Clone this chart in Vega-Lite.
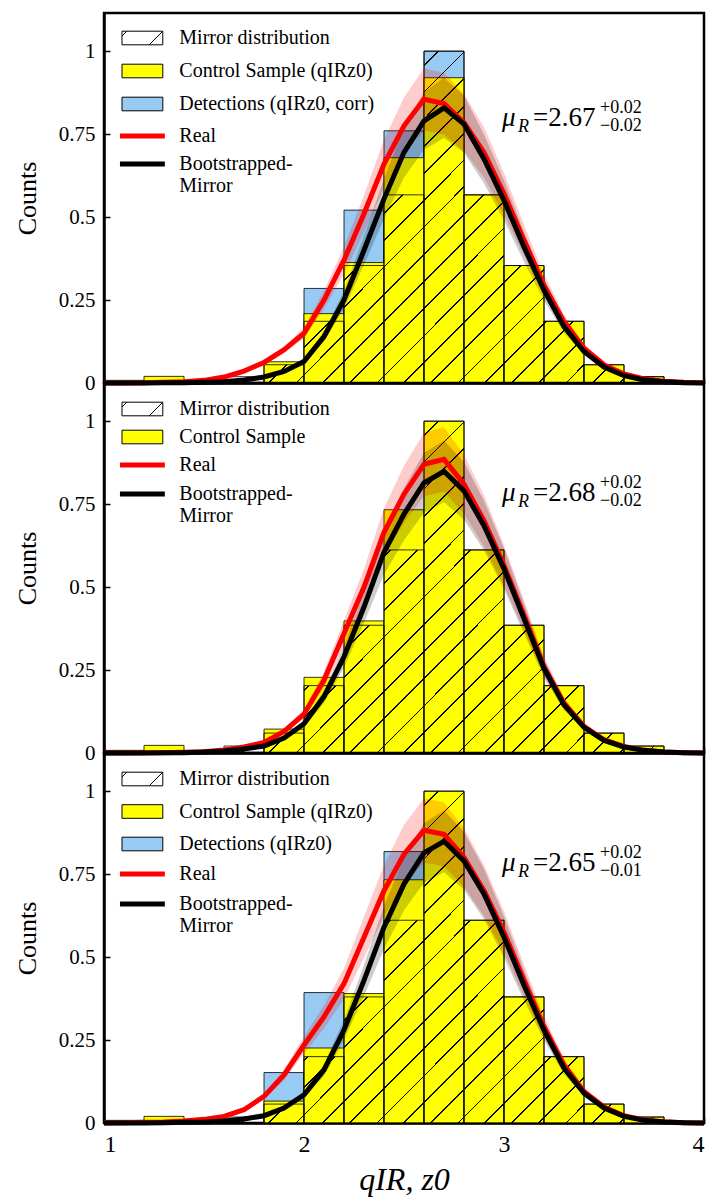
{
"$schema": "https://vega.github.io/schema/vega-lite/v6.json",
"background": "white",
"padding": {"left": 13, "top": 11, "right": 12, "bottom": 4},
"bounds": "flush",
"params": [
 {"name": "hatch", "value": {"gradient": "linear", "x1": 0, "y1": 0, "x2": 1.179, "y2": 0.697, "stops": [
  {"offset":0.010,"color":"transparent"},{"offset":0.010,"color":"black"},{"offset":0.012,"color":"black"},{"offset":0.012,"color":"transparent"},
  {"offset":0.040,"color":"transparent"},{"offset":0.040,"color":"black"},{"offset":0.042,"color":"black"},{"offset":0.042,"color":"transparent"},
  {"offset":0.071,"color":"transparent"},{"offset":0.071,"color":"black"},{"offset":0.073,"color":"black"},{"offset":0.073,"color":"transparent"},
  {"offset":0.101,"color":"transparent"},{"offset":0.101,"color":"black"},{"offset":0.103,"color":"black"},{"offset":0.103,"color":"transparent"},
  {"offset":0.131,"color":"transparent"},{"offset":0.131,"color":"black"},{"offset":0.133,"color":"black"},{"offset":0.133,"color":"transparent"},
  {"offset":0.162,"color":"transparent"},{"offset":0.162,"color":"black"},{"offset":0.164,"color":"black"},{"offset":0.164,"color":"transparent"},
  {"offset":0.192,"color":"transparent"},{"offset":0.192,"color":"black"},{"offset":0.194,"color":"black"},{"offset":0.194,"color":"transparent"},
  {"offset":0.222,"color":"transparent"},{"offset":0.222,"color":"black"},{"offset":0.224,"color":"black"},{"offset":0.224,"color":"transparent"},
  {"offset":0.252,"color":"transparent"},{"offset":0.252,"color":"black"},{"offset":0.254,"color":"black"},{"offset":0.254,"color":"transparent"},
  {"offset":0.283,"color":"transparent"},{"offset":0.283,"color":"black"},{"offset":0.285,"color":"black"},{"offset":0.285,"color":"transparent"},
  {"offset":0.313,"color":"transparent"},{"offset":0.313,"color":"black"},{"offset":0.315,"color":"black"},{"offset":0.315,"color":"transparent"},
  {"offset":0.343,"color":"transparent"},{"offset":0.343,"color":"black"},{"offset":0.345,"color":"black"},{"offset":0.345,"color":"transparent"},
  {"offset":0.374,"color":"transparent"},{"offset":0.374,"color":"black"},{"offset":0.376,"color":"black"},{"offset":0.376,"color":"transparent"},
  {"offset":0.404,"color":"transparent"},{"offset":0.404,"color":"black"},{"offset":0.406,"color":"black"},{"offset":0.406,"color":"transparent"},
  {"offset":0.434,"color":"transparent"},{"offset":0.434,"color":"black"},{"offset":0.436,"color":"black"},{"offset":0.436,"color":"transparent"},
  {"offset":0.465,"color":"transparent"},{"offset":0.465,"color":"black"},{"offset":0.467,"color":"black"},{"offset":0.467,"color":"transparent"},
  {"offset":0.495,"color":"transparent"},{"offset":0.495,"color":"black"},{"offset":0.497,"color":"black"},{"offset":0.497,"color":"transparent"},
  {"offset":0.525,"color":"transparent"},{"offset":0.525,"color":"black"},{"offset":0.527,"color":"black"},{"offset":0.527,"color":"transparent"},
  {"offset":0.555,"color":"transparent"},{"offset":0.555,"color":"black"},{"offset":0.557,"color":"black"},{"offset":0.557,"color":"transparent"},
  {"offset":0.586,"color":"transparent"},{"offset":0.586,"color":"black"},{"offset":0.588,"color":"black"},{"offset":0.588,"color":"transparent"},
  {"offset":0.616,"color":"transparent"},{"offset":0.616,"color":"black"},{"offset":0.618,"color":"black"},{"offset":0.618,"color":"transparent"},
  {"offset":0.646,"color":"transparent"},{"offset":0.646,"color":"black"},{"offset":0.648,"color":"black"},{"offset":0.648,"color":"transparent"},
  {"offset":0.677,"color":"transparent"},{"offset":0.677,"color":"black"},{"offset":0.679,"color":"black"},{"offset":0.679,"color":"transparent"},
  {"offset":0.707,"color":"transparent"},{"offset":0.707,"color":"black"},{"offset":0.709,"color":"black"},{"offset":0.709,"color":"transparent"},
  {"offset":0.737,"color":"transparent"},{"offset":0.737,"color":"black"},{"offset":0.739,"color":"black"},{"offset":0.739,"color":"transparent"},
  {"offset":0.768,"color":"transparent"},{"offset":0.768,"color":"black"},{"offset":0.770,"color":"black"},{"offset":0.770,"color":"transparent"},
  {"offset":0.798,"color":"transparent"},{"offset":0.798,"color":"black"},{"offset":0.800,"color":"black"},{"offset":0.800,"color":"transparent"},
  {"offset":0.828,"color":"transparent"},{"offset":0.828,"color":"black"},{"offset":0.830,"color":"black"},{"offset":0.830,"color":"transparent"},
  {"offset":0.858,"color":"transparent"},{"offset":0.858,"color":"black"},{"offset":0.860,"color":"black"},{"offset":0.860,"color":"transparent"},
  {"offset":0.889,"color":"transparent"},{"offset":0.889,"color":"black"},{"offset":0.891,"color":"black"},{"offset":0.891,"color":"transparent"},
  {"offset":0.919,"color":"transparent"},{"offset":0.919,"color":"black"},{"offset":0.921,"color":"black"},{"offset":0.921,"color":"transparent"},
  {"offset":0.949,"color":"transparent"},{"offset":0.949,"color":"black"},{"offset":0.951,"color":"black"},{"offset":0.951,"color":"transparent"},
  {"offset":0.980,"color":"transparent"},{"offset":0.980,"color":"black"},{"offset":0.982,"color":"black"},{"offset":0.982,"color":"transparent"}
 ]}},
 {"name": "hatchLeg", "value": {"gradient": "linear", "x1": 0, "y1": 0, "x2": 1.2, "y2": 0.4, "stops": [
  {"offset":0,"color":"white"},{"offset":0.077,"color":"white"},{"offset":0.077,"color":"black"},{"offset":0.105,"color":"black"},{"offset":0.105,"color":"white"},
  {"offset":0.737,"color":"white"},{"offset":0.737,"color":"black"},{"offset":0.765,"color":"black"},{"offset":0.765,"color":"white"},{"offset":1,"color":"white"}
 ]}}
],
"datasets": {
 "bars1": [
  {"x0":1.0,"x1":1.2,"ctrl":0.008,"det":null,"mir":0},
  {"x0":1.2,"x1":1.4,"ctrl":0.02,"det":null,"mir":0},
  {"x0":1.4,"x1":1.6,"ctrl":0,"det":null,"mir":0},
  {"x0":1.6,"x1":1.8,"ctrl":0,"det":null,"mir":0.019},
  {"x0":1.8,"x1":2.0,"ctrl":0.064,"det":null,"mir":0.055},
  {"x0":2.0,"x1":2.2,"ctrl":0.209,"det":0.285,"mir":0.186},
  {"x0":2.2,"x1":2.4,"ctrl":0.363,"det":0.521,"mir":0.354},
  {"x0":2.4,"x1":2.6,"ctrl":0.679,"det":0.76,"mir":0.567},
  {"x0":2.6,"x1":2.8,"ctrl":0.92,"det":1.0,"mir":1.0},
  {"x0":2.8,"x1":3.0,"ctrl":0.567,"det":null,"mir":0.567},
  {"x0":3.0,"x1":3.2,"ctrl":0.354,"det":null,"mir":0.354},
  {"x0":3.2,"x1":3.4,"ctrl":0.186,"det":null,"mir":0.186},
  {"x0":3.4,"x1":3.6,"ctrl":0.055,"det":null,"mir":0.055},
  {"x0":3.6,"x1":3.8,"ctrl":0.019,"det":null,"mir":0.019},
  {"x0":3.8,"x1":4.0,"ctrl":0,"det":null,"mir":0}
 ],
 "bars2": [
  {"x0":1.0,"x1":1.2,"ctrl":0.008,"mir":0},
  {"x0":1.2,"x1":1.4,"ctrl":0.023,"mir":0},
  {"x0":1.4,"x1":1.6,"ctrl":0,"mir":0},
  {"x0":1.6,"x1":1.8,"ctrl":0,"mir":0.021},
  {"x0":1.8,"x1":2.0,"ctrl":0.072,"mir":0.06},
  {"x0":2.0,"x1":2.2,"ctrl":0.228,"mir":0.203},
  {"x0":2.2,"x1":2.4,"ctrl":0.398,"mir":0.385},
  {"x0":2.4,"x1":2.6,"ctrl":0.733,"mir":0.612},
  {"x0":2.6,"x1":2.8,"ctrl":1.0,"mir":1.0},
  {"x0":2.8,"x1":3.0,"ctrl":0.612,"mir":0.612},
  {"x0":3.0,"x1":3.2,"ctrl":0.385,"mir":0.385},
  {"x0":3.2,"x1":3.4,"ctrl":0.203,"mir":0.203},
  {"x0":3.4,"x1":3.6,"ctrl":0.06,"mir":0.06},
  {"x0":3.6,"x1":3.8,"ctrl":0.021,"mir":0.021},
  {"x0":3.8,"x1":4.0,"ctrl":0,"mir":0}
 ],
 "bars3": [
  {"x0":1.0,"x1":1.2,"ctrl":0.008,"det":null,"mir":0},
  {"x0":1.2,"x1":1.4,"ctrl":0.02,"det":null,"mir":0},
  {"x0":1.4,"x1":1.6,"ctrl":0,"det":null,"mir":0},
  {"x0":1.6,"x1":1.8,"ctrl":0,"det":null,"mir":0.018},
  {"x0":1.8,"x1":2.0,"ctrl":0.066,"det":0.152,"mir":0.057},
  {"x0":2.0,"x1":2.2,"ctrl":0.226,"det":0.393,"mir":0.2},
  {"x0":2.2,"x1":2.4,"ctrl":0.39,"det":null,"mir":0.38},
  {"x0":2.4,"x1":2.6,"ctrl":0.733,"det":0.818,"mir":0.611},
  {"x0":2.6,"x1":2.8,"ctrl":1.0,"det":null,"mir":1.0},
  {"x0":2.8,"x1":3.0,"ctrl":0.611,"det":null,"mir":0.611},
  {"x0":3.0,"x1":3.2,"ctrl":0.38,"det":null,"mir":0.38},
  {"x0":3.2,"x1":3.4,"ctrl":0.2,"det":null,"mir":0.2},
  {"x0":3.4,"x1":3.6,"ctrl":0.057,"det":null,"mir":0.057},
  {"x0":3.6,"x1":3.8,"ctrl":0.018,"det":null,"mir":0.018},
  {"x0":3.8,"x1":4.0,"ctrl":0,"det":null,"mir":0}
 ],
 "curves1": [
  {"x":1.0,"r":0,"rl":0,"rh":0,"b":0,"bl":0,"bh":0},
  {"x":1.1,"r":0,"rl":0,"rh":0,"b":0,"bl":0,"bh":0},
  {"x":1.2,"r":0.001,"rl":0.001,"rh":0.001,"b":0,"bl":0,"bh":0},
  {"x":1.3,"r":0.002,"rl":0.002,"rh":0.002,"b":0.001,"bl":0.001,"bh":0.001},
  {"x":1.4,"r":0.004,"rl":0.004,"rh":0.004,"b":0.001,"bl":0.001,"bh":0.001},
  {"x":1.5,"r":0.008,"rl":0.007,"rh":0.009,"b":0.002,"bl":0.002,"bh":0.002},
  {"x":1.6,"r":0.018,"rl":0.016,"rh":0.02,"b":0.004,"bl":0.004,"bh":0.004},
  {"x":1.7,"r":0.036,"rl":0.032,"rh":0.04,"b":0.009,"bl":0.008,"bh":0.01},
  {"x":1.8,"r":0.062,"rl":0.055,"rh":0.069,"b":0.018,"bl":0.016,"bh":0.02},
  {"x":1.9,"r":0.1,"rl":0.089,"rh":0.111,"b":0.035,"bl":0.031,"bh":0.039},
  {"x":2.0,"r":0.15,"rl":0.134,"rh":0.167,"b":0.065,"bl":0.058,"bh":0.072},
  {"x":2.1,"r":0.25,"rl":0.223,"rh":0.278,"b":0.14,"bl":0.125,"bh":0.155},
  {"x":2.2,"r":0.37,"rl":0.329,"rh":0.411,"b":0.25,"bl":0.223,"bh":0.278},
  {"x":2.3,"r":0.51,"rl":0.454,"rh":0.566,"b":0.4,"bl":0.356,"bh":0.444},
  {"x":2.4,"r":0.66,"rl":0.587,"rh":0.733,"b":0.555,"bl":0.494,"bh":0.616},
  {"x":2.5,"r":0.775,"rl":0.69,"rh":0.86,"b":0.695,"bl":0.619,"bh":0.771},
  {"x":2.6,"r":0.855,"rl":0.761,"rh":0.949,"b":0.79,"bl":0.703,"bh":0.877},
  {"x":2.7,"r":0.842,"rl":0.749,"rh":0.935,"b":0.829,"bl":0.738,"bh":0.92},
  {"x":2.8,"r":0.785,"rl":0.699,"rh":0.871,"b":0.78,"bl":0.694,"bh":0.866},
  {"x":2.9,"r":0.695,"rl":0.619,"rh":0.771,"b":0.675,"bl":0.601,"bh":0.749},
  {"x":3.0,"r":0.57,"rl":0.507,"rh":0.633,"b":0.55,"bl":0.49,"bh":0.611},
  {"x":3.1,"r":0.43,"rl":0.383,"rh":0.477,"b":0.41,"bl":0.365,"bh":0.455},
  {"x":3.2,"r":0.295,"rl":0.263,"rh":0.327,"b":0.28,"bl":0.249,"bh":0.311},
  {"x":3.3,"r":0.185,"rl":0.165,"rh":0.205,"b":0.17,"bl":0.151,"bh":0.189},
  {"x":3.4,"r":0.105,"rl":0.093,"rh":0.117,"b":0.095,"bl":0.085,"bh":0.105},
  {"x":3.5,"r":0.055,"rl":0.049,"rh":0.061,"b":0.048,"bl":0.043,"bh":0.053},
  {"x":3.6,"r":0.027,"rl":0.024,"rh":0.03,"b":0.022,"bl":0.02,"bh":0.024},
  {"x":3.7,"r":0.012,"rl":0.011,"rh":0.013,"b":0.009,"bl":0.008,"bh":0.01},
  {"x":3.8,"r":0.005,"rl":0.004,"rh":0.006,"b":0.004,"bl":0.004,"bh":0.004},
  {"x":3.9,"r":0.002,"rl":0.002,"rh":0.002,"b":0.001,"bl":0.001,"bh":0.001},
  {"x":4.0,"r":0.001,"rl":0.001,"rh":0.001,"b":0,"bl":0,"bh":0}
 ],
 "curves2": [
  {"x":1.0,"r":0,"rl":0,"rh":0,"b":0,"bl":0,"bh":0},
  {"x":1.1,"r":0,"rl":0,"rh":0,"b":0,"bl":0,"bh":0},
  {"x":1.2,"r":0.001,"rl":0.001,"rh":0.001,"b":0,"bl":0,"bh":0},
  {"x":1.3,"r":0.001,"rl":0.001,"rh":0.001,"b":0.001,"bl":0.001,"bh":0.001},
  {"x":1.4,"r":0.002,"rl":0.002,"rh":0.002,"b":0.001,"bl":0.001,"bh":0.001},
  {"x":1.5,"r":0.004,"rl":0.004,"rh":0.004,"b":0.003,"bl":0.003,"bh":0.003},
  {"x":1.6,"r":0.009,"rl":0.008,"rh":0.01,"b":0.006,"bl":0.005,"bh":0.007},
  {"x":1.7,"r":0.018,"rl":0.016,"rh":0.02,"b":0.012,"bl":0.011,"bh":0.013},
  {"x":1.8,"r":0.032,"rl":0.028,"rh":0.036,"b":0.021,"bl":0.019,"bh":0.023},
  {"x":1.9,"r":0.065,"rl":0.058,"rh":0.072,"b":0.045,"bl":0.04,"bh":0.05},
  {"x":2.0,"r":0.117,"rl":0.104,"rh":0.13,"b":0.088,"bl":0.078,"bh":0.098},
  {"x":2.1,"r":0.22,"rl":0.196,"rh":0.244,"b":0.17,"bl":0.151,"bh":0.189},
  {"x":2.2,"r":0.36,"rl":0.32,"rh":0.4,"b":0.29,"bl":0.258,"bh":0.322},
  {"x":2.3,"r":0.5,"rl":0.445,"rh":0.555,"b":0.44,"bl":0.392,"bh":0.488},
  {"x":2.4,"r":0.665,"rl":0.592,"rh":0.738,"b":0.605,"bl":0.538,"bh":0.672},
  {"x":2.5,"r":0.78,"rl":0.694,"rh":0.866,"b":0.72,"bl":0.641,"bh":0.799},
  {"x":2.6,"r":0.87,"rl":0.774,"rh":0.966,"b":0.814,"bl":0.724,"bh":0.904},
  {"x":2.7,"r":0.885,"rl":0.788,"rh":0.982,"b":0.849,"bl":0.756,"bh":0.942},
  {"x":2.8,"r":0.81,"rl":0.721,"rh":0.899,"b":0.79,"bl":0.703,"bh":0.877},
  {"x":2.9,"r":0.7,"rl":0.623,"rh":0.777,"b":0.685,"bl":0.61,"bh":0.76},
  {"x":3.0,"r":0.565,"rl":0.503,"rh":0.627,"b":0.555,"bl":0.494,"bh":0.616},
  {"x":3.1,"r":0.415,"rl":0.369,"rh":0.461,"b":0.405,"bl":0.36,"bh":0.45},
  {"x":3.2,"r":0.26,"rl":0.231,"rh":0.289,"b":0.255,"bl":0.227,"bh":0.283},
  {"x":3.3,"r":0.15,"rl":0.134,"rh":0.167,"b":0.145,"bl":0.129,"bh":0.161},
  {"x":3.4,"r":0.08,"rl":0.071,"rh":0.089,"b":0.077,"bl":0.069,"bh":0.085},
  {"x":3.5,"r":0.04,"rl":0.036,"rh":0.044,"b":0.038,"bl":0.034,"bh":0.042},
  {"x":3.6,"r":0.02,"rl":0.018,"rh":0.022,"b":0.018,"bl":0.016,"bh":0.02},
  {"x":3.7,"r":0.008,"rl":0.007,"rh":0.009,"b":0.008,"bl":0.007,"bh":0.009},
  {"x":3.8,"r":0.003,"rl":0.003,"rh":0.003,"b":0.003,"bl":0.003,"bh":0.003},
  {"x":3.9,"r":0.001,"rl":0.001,"rh":0.001,"b":0.001,"bl":0.001,"bh":0.001},
  {"x":4.0,"r":0,"rl":0,"rh":0,"b":0,"bl":0,"bh":0}
 ],
 "curves3": [
  {"x":1.0,"r":0,"rl":0,"rh":0,"b":0,"bl":0,"bh":0},
  {"x":1.1,"r":0.001,"rl":0.001,"rh":0.001,"b":0,"bl":0,"bh":0},
  {"x":1.2,"r":0.002,"rl":0.002,"rh":0.002,"b":0,"bl":0,"bh":0},
  {"x":1.3,"r":0.003,"rl":0.003,"rh":0.003,"b":0.001,"bl":0.001,"bh":0.001},
  {"x":1.4,"r":0.006,"rl":0.005,"rh":0.007,"b":0.002,"bl":0.002,"bh":0.002},
  {"x":1.5,"r":0.011,"rl":0.01,"rh":0.012,"b":0.003,"bl":0.003,"bh":0.003},
  {"x":1.6,"r":0.02,"rl":0.018,"rh":0.022,"b":0.006,"bl":0.005,"bh":0.007},
  {"x":1.7,"r":0.04,"rl":0.036,"rh":0.044,"b":0.012,"bl":0.011,"bh":0.013},
  {"x":1.8,"r":0.08,"rl":0.071,"rh":0.089,"b":0.022,"bl":0.02,"bh":0.024},
  {"x":1.9,"r":0.145,"rl":0.129,"rh":0.161,"b":0.045,"bl":0.04,"bh":0.05},
  {"x":2.0,"r":0.235,"rl":0.209,"rh":0.261,"b":0.085,"bl":0.076,"bh":0.094},
  {"x":2.1,"r":0.32,"rl":0.285,"rh":0.355,"b":0.16,"bl":0.142,"bh":0.178},
  {"x":2.2,"r":0.42,"rl":0.374,"rh":0.466,"b":0.28,"bl":0.249,"bh":0.311},
  {"x":2.3,"r":0.56,"rl":0.498,"rh":0.622,"b":0.43,"bl":0.383,"bh":0.477},
  {"x":2.4,"r":0.7,"rl":0.623,"rh":0.777,"b":0.59,"bl":0.525,"bh":0.655},
  {"x":2.5,"r":0.81,"rl":0.721,"rh":0.899,"b":0.72,"bl":0.641,"bh":0.799},
  {"x":2.6,"r":0.882,"rl":0.785,"rh":0.979,"b":0.814,"bl":0.724,"bh":0.904},
  {"x":2.7,"r":0.87,"rl":0.774,"rh":0.966,"b":0.849,"bl":0.756,"bh":0.942},
  {"x":2.8,"r":0.8,"rl":0.712,"rh":0.888,"b":0.79,"bl":0.703,"bh":0.877},
  {"x":2.9,"r":0.7,"rl":0.623,"rh":0.777,"b":0.69,"bl":0.614,"bh":0.766},
  {"x":3.0,"r":0.575,"rl":0.512,"rh":0.638,"b":0.56,"bl":0.498,"bh":0.622},
  {"x":3.1,"r":0.43,"rl":0.383,"rh":0.477,"b":0.415,"bl":0.369,"bh":0.461},
  {"x":3.2,"r":0.29,"rl":0.258,"rh":0.322,"b":0.28,"bl":0.249,"bh":0.311},
  {"x":3.3,"r":0.175,"rl":0.156,"rh":0.194,"b":0.165,"bl":0.147,"bh":0.183},
  {"x":3.4,"r":0.095,"rl":0.085,"rh":0.105,"b":0.09,"bl":0.08,"bh":0.1},
  {"x":3.5,"r":0.048,"rl":0.043,"rh":0.053,"b":0.045,"bl":0.04,"bh":0.05},
  {"x":3.6,"r":0.022,"rl":0.02,"rh":0.024,"b":0.02,"bl":0.018,"bh":0.022},
  {"x":3.7,"r":0.009,"rl":0.008,"rh":0.01,"b":0.008,"bl":0.007,"bh":0.009},
  {"x":3.8,"r":0.004,"rl":0.004,"rh":0.004,"b":0.003,"bl":0.003,"bh":0.003},
  {"x":3.9,"r":0.001,"rl":0.001,"rh":0.001,"b":0.001,"bl":0.001,"bh":0.001},
  {"x":4.0,"r":0,"rl":0,"rh":0,"b":0,"bl":0,"bh":0}
 ],
 "ann1": [{"val":"=2.67","up":"+0.02","dn":"−0.02"}],
 "ann2": [{"val":"=2.68","up":"+0.02","dn":"−0.02"}],
 "ann3": [{"val":"=2.65","up":"+0.02","dn":"−0.01"}]
},
"spacing": 0,
"resolve": {"scale": {"fill": "independent", "stroke": "independent", "x": "independent", "y": "independent"}, "legend": {"fill": "independent", "stroke": "independent"}},
"vconcat": [
 {"width": 600, "height": 370,
  "layer": [
   {"data": {"name": "bars1"}, "mark": {"type": "rect", "stroke": "black", "strokeWidth": 0.8},
    "encoding": {
     "x": {"field": "x0", "type": "quantitative", "title": null, "scale": {"domain": [1, 4], "nice": false}, "axis": {"values": [1,2,3,4], "labels": false, "labelPadding": 0}},
     "x2": {"field": "x1"},
     "y": {"field": "det", "type": "quantitative", "title": "Counts", "scale": {"domain": [0, 1.115], "nice": false}, "axis": {"values": [0,0.25,0.5,0.75,1], "format": "~g"}},
     "y2": {"datum": 0},
     "fill": {"datum": "Detections (qIRz0, corr)",
      "scale": {"domain": ["Mirror distribution","Control Sample (qIRz0)","Detections (qIRz0, corr)"], "range": [{"expr": "hatchLeg"},"#ffff00","#97cbf3"]},
      "legend": {"title": null, "orient": "none", "legendX": 18, "legendY": 15, "rowPadding": 13, "symbolType": "M-3,-1H3V1H-3Z", "symbolSize": 185, "symbolStrokeColor": "black", "symbolStrokeWidth": 1, "symbolOffset": 10.4, "labelOffset": 26.9}}
    }},
   {"data": {"name": "bars1"}, "mark": {"type": "rect", "stroke": "black", "strokeWidth": 0.8},
    "encoding": {"x": {"field": "x0", "type": "quantitative", "title": null, "scale": {"domain": [1, 4], "nice": false}}, "x2": {"field": "x1"},
     "y": {"field": "ctrl", "type": "quantitative", "title": "Counts", "scale": {"domain": [0, 1.115], "nice": false}}, "y2": {"datum": 0},
     "fill": {"datum": "Control Sample (qIRz0)"}}},
   {"data": {"name": "bars1"}, "mark": {"type": "area", "interpolate": "step-after", "fill": {"expr": "hatch"}},
    "encoding": {"x": {"field": "x0", "type": "quantitative", "title": null, "scale": {"domain": [1, 4], "nice": false}},
     "y": {"field": "mir", "type": "quantitative", "title": "Counts", "scale": {"domain": [0, 1.115], "nice": false}}}},
   {"data": {"name": "bars1"}, "mark": {"type": "rect", "fillOpacity": 0, "stroke": "black", "strokeWidth": 0.8},
    "encoding": {"x": {"field": "x0", "type": "quantitative", "title": null, "scale": {"domain": [1, 4], "nice": false}}, "x2": {"field": "x1"},
     "y": {"field": "mir", "type": "quantitative", "title": "Counts", "scale": {"domain": [0, 1.115], "nice": false}}, "y2": {"datum": 0}}},
   {"data": {"name": "curves1"}, "mark": {"type": "area", "color": "red", "opacity": 0.2},
    "encoding": {"x": {"field": "x", "type": "quantitative", "title": null, "scale": {"domain": [1, 4], "nice": false}},
     "y": {"field": "rl", "type": "quantitative", "title": "Counts", "scale": {"domain": [0, 1.115], "nice": false}}, "y2": {"field": "rh"}}},
   {"data": {"name": "curves1"}, "mark": {"type": "area", "color": "black", "opacity": 0.2},
    "encoding": {"x": {"field": "x", "type": "quantitative", "title": null, "scale": {"domain": [1, 4], "nice": false}},
     "y": {"field": "bl", "type": "quantitative", "title": "Counts", "scale": {"domain": [0, 1.115], "nice": false}}, "y2": {"field": "bh"}}},
   {"data": {"name": "curves1"}, "mark": {"type": "line", "strokeWidth": 5},
    "encoding": {"x": {"field": "x", "type": "quantitative", "title": null, "scale": {"domain": [1, 4], "nice": false}},
     "y": {"field": "r", "type": "quantitative", "title": "Counts", "scale": {"domain": [0, 1.115], "nice": false}},
     "stroke": {"datum": "Real",
      "scale": {"domain": ["Real","Bootstrapped-Mirror"], "range": ["red","black"]},
      "legend": {"title": null, "orient": "none", "legendX": 18, "legendY": 113, "rowPadding": 8, "symbolType": "M-3.3,0H3.3", "symbolSize": 185, "symbolStrokeWidth": 5, "symbolFillColor": "transparent", "symbolOffset": 10.4, "labelOffset": 26.9,
       "labelExpr": "datum.label == 'Bootstrapped-Mirror' ? ['Bootstrapped-', ' Mirror'] : datum.label"}}}},
   {"data": {"name": "curves1"}, "mark": {"type": "line", "strokeWidth": 5},
    "encoding": {"x": {"field": "x", "type": "quantitative", "title": null, "scale": {"domain": [1, 4], "nice": false}},
     "y": {"field": "b", "type": "quantitative", "title": "Counts", "scale": {"domain": [0, 1.115], "nice": false}},
     "stroke": {"datum": "Bootstrapped-Mirror"}}},
   {"data": {"name": "ann1"}, "mark": {"type": "text", "text": "μ", "fontSize": 27, "fontStyle": "italic", "align": "left", "baseline": "alphabetic", "dx": -2},
    "encoding": {"x": {"datum": 3, "type": "quantitative", "title": null}, "y": {"datum": 0.775, "type": "quantitative", "title": "Counts"}}},
   {"data": {"name": "ann1"}, "mark": {"type": "text", "text": "R", "fontSize": 18, "fontStyle": "italic", "align": "left", "baseline": "alphabetic", "dx": 14, "dy": 6},
    "encoding": {"x": {"datum": 3, "type": "quantitative", "title": null}, "y": {"datum": 0.775, "type": "quantitative", "title": "Counts"}}},
   {"data": {"name": "ann1"}, "mark": {"type": "text", "fontSize": 27, "align": "left", "baseline": "alphabetic", "dx": 29},
    "encoding": {"x": {"datum": 3, "type": "quantitative", "title": null}, "y": {"datum": 0.775, "type": "quantitative", "title": "Counts"}, "text": {"field": "val"}}},
   {"data": {"name": "ann1"}, "mark": {"type": "text", "fontSize": 18, "align": "left", "baseline": "alphabetic", "dx": 96, "dy": -13},
    "encoding": {"x": {"datum": 3, "type": "quantitative", "title": null}, "y": {"datum": 0.775, "type": "quantitative", "title": "Counts"}, "text": {"field": "up"}}},
   {"data": {"name": "ann1"}, "mark": {"type": "text", "fontSize": 18, "align": "left", "baseline": "alphabetic", "dx": 96, "dy": 5},
    "encoding": {"x": {"datum": 3, "type": "quantitative", "title": null}, "y": {"datum": 0.775, "type": "quantitative", "title": "Counts"}, "text": {"field": "dn"}}}
  ]},
 {"width": 600, "height": 370,
  "layer": [
   {"data": {"name": "bars2"}, "mark": {"type": "rect", "stroke": "black", "strokeWidth": 0.8},
    "encoding": {
     "x": {"field": "x0", "type": "quantitative", "title": null, "scale": {"domain": [1, 4], "nice": false}, "axis": {"values": [1,2,3,4], "labels": false, "labelPadding": 0}},
     "x2": {"field": "x1"},
     "y": {"field": "ctrl", "type": "quantitative", "title": "Counts", "scale": {"domain": [0, 1.115], "nice": false}, "axis": {"values": [0,0.25,0.5,0.75,1], "format": "~g"}},
     "y2": {"datum": 0},
     "fill": {"datum": "Control Sample",
      "scale": {"domain": ["Mirror distribution","Control Sample"], "range": [{"expr": "hatchLeg"},"#ffff00"]},
      "legend": {"title": null, "orient": "none", "legendX": 18, "legendY": 16, "rowPadding": 8, "symbolType": "M-3,-1H3V1H-3Z", "symbolSize": 185, "symbolStrokeColor": "black", "symbolStrokeWidth": 1, "symbolOffset": 10.4, "labelOffset": 26.9}}
    }},
   {"data": {"name": "bars2"}, "mark": {"type": "area", "interpolate": "step-after", "fill": {"expr": "hatch"}},
    "encoding": {"x": {"field": "x0", "type": "quantitative", "title": null, "scale": {"domain": [1, 4], "nice": false}},
     "y": {"field": "mir", "type": "quantitative", "title": "Counts", "scale": {"domain": [0, 1.115], "nice": false}}}},
   {"data": {"name": "bars2"}, "mark": {"type": "rect", "fillOpacity": 0, "stroke": "black", "strokeWidth": 0.8},
    "encoding": {"x": {"field": "x0", "type": "quantitative", "title": null, "scale": {"domain": [1, 4], "nice": false}}, "x2": {"field": "x1"},
     "y": {"field": "mir", "type": "quantitative", "title": "Counts", "scale": {"domain": [0, 1.115], "nice": false}}, "y2": {"datum": 0}}},
   {"data": {"name": "curves2"}, "mark": {"type": "area", "color": "red", "opacity": 0.2},
    "encoding": {"x": {"field": "x", "type": "quantitative", "title": null, "scale": {"domain": [1, 4], "nice": false}},
     "y": {"field": "rl", "type": "quantitative", "title": "Counts", "scale": {"domain": [0, 1.115], "nice": false}}, "y2": {"field": "rh"}}},
   {"data": {"name": "curves2"}, "mark": {"type": "area", "color": "black", "opacity": 0.2},
    "encoding": {"x": {"field": "x", "type": "quantitative", "title": null, "scale": {"domain": [1, 4], "nice": false}},
     "y": {"field": "bl", "type": "quantitative", "title": "Counts", "scale": {"domain": [0, 1.115], "nice": false}}, "y2": {"field": "bh"}}},
   {"data": {"name": "curves2"}, "mark": {"type": "line", "strokeWidth": 5},
    "encoding": {"x": {"field": "x", "type": "quantitative", "title": null, "scale": {"domain": [1, 4], "nice": false}},
     "y": {"field": "r", "type": "quantitative", "title": "Counts", "scale": {"domain": [0, 1.115], "nice": false}},
     "stroke": {"datum": "Real",
      "scale": {"domain": ["Real","Bootstrapped-Mirror"], "range": ["red","black"]},
      "legend": {"title": null, "orient": "none", "legendX": 18, "legendY": 72, "rowPadding": 9, "symbolType": "M-3.3,0H3.3", "symbolSize": 185, "symbolStrokeWidth": 5, "symbolFillColor": "transparent", "symbolOffset": 10.4, "labelOffset": 26.9,
       "labelExpr": "datum.label == 'Bootstrapped-Mirror' ? ['Bootstrapped-', ' Mirror'] : datum.label"}}}},
   {"data": {"name": "curves2"}, "mark": {"type": "line", "strokeWidth": 5},
    "encoding": {"x": {"field": "x", "type": "quantitative", "title": null, "scale": {"domain": [1, 4], "nice": false}},
     "y": {"field": "b", "type": "quantitative", "title": "Counts", "scale": {"domain": [0, 1.115], "nice": false}},
     "stroke": {"datum": "Bootstrapped-Mirror"}}},
   {"data": {"name": "ann2"}, "mark": {"type": "text", "text": "μ", "fontSize": 27, "fontStyle": "italic", "align": "left", "baseline": "alphabetic", "dx": -2},
    "encoding": {"x": {"datum": 3, "type": "quantitative", "title": null}, "y": {"datum": 0.76, "type": "quantitative", "title": "Counts"}}},
   {"data": {"name": "ann2"}, "mark": {"type": "text", "text": "R", "fontSize": 18, "fontStyle": "italic", "align": "left", "baseline": "alphabetic", "dx": 14, "dy": 6},
    "encoding": {"x": {"datum": 3, "type": "quantitative", "title": null}, "y": {"datum": 0.76, "type": "quantitative", "title": "Counts"}}},
   {"data": {"name": "ann2"}, "mark": {"type": "text", "fontSize": 27, "align": "left", "baseline": "alphabetic", "dx": 29},
    "encoding": {"x": {"datum": 3, "type": "quantitative", "title": null}, "y": {"datum": 0.76, "type": "quantitative", "title": "Counts"}, "text": {"field": "val"}}},
   {"data": {"name": "ann2"}, "mark": {"type": "text", "fontSize": 18, "align": "left", "baseline": "alphabetic", "dx": 96, "dy": -13},
    "encoding": {"x": {"datum": 3, "type": "quantitative", "title": null}, "y": {"datum": 0.76, "type": "quantitative", "title": "Counts"}, "text": {"field": "up"}}},
   {"data": {"name": "ann2"}, "mark": {"type": "text", "fontSize": 18, "align": "left", "baseline": "alphabetic", "dx": 96, "dy": 5},
    "encoding": {"x": {"datum": 3, "type": "quantitative", "title": null}, "y": {"datum": 0.76, "type": "quantitative", "title": "Counts"}, "text": {"field": "dn"}}}
  ]},
 {"width": 600, "height": 370,
  "layer": [
   {"data": {"name": "bars3"}, "mark": {"type": "rect", "stroke": "black", "strokeWidth": 0.8},
    "encoding": {
     "x": {"field": "x0", "type": "quantitative", "title": "qIR, z0", "scale": {"domain": [1, 4], "nice": false}, "axis": {"values": [1,2,3,4], "format": "d"}},
     "x2": {"field": "x1"},
     "y": {"field": "det", "type": "quantitative", "title": "Counts", "scale": {"domain": [0, 1.115], "nice": false}, "axis": {"values": [0,0.25,0.5,0.75,1], "format": "~g"}},
     "y2": {"datum": 0},
     "fill": {"datum": "Detections  (qIRz0)",
      "scale": {"domain": ["Mirror distribution","Control Sample (qIRz0)","Detections  (qIRz0)"], "range": [{"expr": "hatchLeg"},"#ffff00","#97cbf3"]},
      "legend": {"title": null, "orient": "none", "legendX": 18, "legendY": 16, "rowPadding": 12.5, "symbolType": "M-3,-1H3V1H-3Z", "symbolSize": 185, "symbolStrokeColor": "black", "symbolStrokeWidth": 1, "symbolOffset": 10.4, "labelOffset": 26.9}}
    }},
   {"data": {"name": "bars3"}, "mark": {"type": "rect", "stroke": "black", "strokeWidth": 0.8},
    "encoding": {"x": {"field": "x0", "type": "quantitative", "title": "qIR, z0", "scale": {"domain": [1, 4], "nice": false}}, "x2": {"field": "x1"},
     "y": {"field": "ctrl", "type": "quantitative", "title": "Counts", "scale": {"domain": [0, 1.115], "nice": false}}, "y2": {"datum": 0},
     "fill": {"datum": "Control Sample (qIRz0)"}}},
   {"data": {"name": "bars3"}, "mark": {"type": "area", "interpolate": "step-after", "fill": {"expr": "hatch"}},
    "encoding": {"x": {"field": "x0", "type": "quantitative", "title": "qIR, z0", "scale": {"domain": [1, 4], "nice": false}},
     "y": {"field": "mir", "type": "quantitative", "title": "Counts", "scale": {"domain": [0, 1.115], "nice": false}}}},
   {"data": {"name": "bars3"}, "mark": {"type": "rect", "fillOpacity": 0, "stroke": "black", "strokeWidth": 0.8},
    "encoding": {"x": {"field": "x0", "type": "quantitative", "title": "qIR, z0", "scale": {"domain": [1, 4], "nice": false}}, "x2": {"field": "x1"},
     "y": {"field": "mir", "type": "quantitative", "title": "Counts", "scale": {"domain": [0, 1.115], "nice": false}}, "y2": {"datum": 0}}},
   {"data": {"name": "curves3"}, "mark": {"type": "area", "color": "red", "opacity": 0.2},
    "encoding": {"x": {"field": "x", "type": "quantitative", "title": "qIR, z0", "scale": {"domain": [1, 4], "nice": false}},
     "y": {"field": "rl", "type": "quantitative", "title": "Counts", "scale": {"domain": [0, 1.115], "nice": false}}, "y2": {"field": "rh"}}},
   {"data": {"name": "curves3"}, "mark": {"type": "area", "color": "black", "opacity": 0.2},
    "encoding": {"x": {"field": "x", "type": "quantitative", "title": "qIR, z0", "scale": {"domain": [1, 4], "nice": false}},
     "y": {"field": "bl", "type": "quantitative", "title": "Counts", "scale": {"domain": [0, 1.115], "nice": false}}, "y2": {"field": "bh"}}},
   {"data": {"name": "curves3"}, "mark": {"type": "line", "strokeWidth": 5},
    "encoding": {"x": {"field": "x", "type": "quantitative", "title": "qIR, z0", "scale": {"domain": [1, 4], "nice": false}},
     "y": {"field": "r", "type": "quantitative", "title": "Counts", "scale": {"domain": [0, 1.115], "nice": false}},
     "stroke": {"datum": "Real",
      "scale": {"domain": ["Real","Bootstrapped-Mirror"], "range": ["red","black"]},
      "legend": {"title": null, "orient": "none", "legendX": 18, "legendY": 111, "rowPadding": 10, "symbolType": "M-3.3,0H3.3", "symbolSize": 185, "symbolStrokeWidth": 5, "symbolFillColor": "transparent", "symbolOffset": 10.4, "labelOffset": 26.9,
       "labelExpr": "datum.label == 'Bootstrapped-Mirror' ? ['Bootstrapped-', ' Mirror'] : datum.label"}}}},
   {"data": {"name": "curves3"}, "mark": {"type": "line", "strokeWidth": 5},
    "encoding": {"x": {"field": "x", "type": "quantitative", "title": "qIR, z0", "scale": {"domain": [1, 4], "nice": false}},
     "y": {"field": "b", "type": "quantitative", "title": "Counts", "scale": {"domain": [0, 1.115], "nice": false}},
     "stroke": {"datum": "Bootstrapped-Mirror"}}},
   {"data": {"name": "ann3"}, "mark": {"type": "text", "text": "μ", "fontSize": 27, "fontStyle": "italic", "align": "left", "baseline": "alphabetic", "dx": -2},
    "encoding": {"x": {"datum": 3, "type": "quantitative", "title": "qIR, z0"}, "y": {"datum": 0.76, "type": "quantitative", "title": "Counts"}}},
   {"data": {"name": "ann3"}, "mark": {"type": "text", "text": "R", "fontSize": 18, "fontStyle": "italic", "align": "left", "baseline": "alphabetic", "dx": 14, "dy": 6},
    "encoding": {"x": {"datum": 3, "type": "quantitative", "title": "qIR, z0"}, "y": {"datum": 0.76, "type": "quantitative", "title": "Counts"}}},
   {"data": {"name": "ann3"}, "mark": {"type": "text", "fontSize": 27, "align": "left", "baseline": "alphabetic", "dx": 29},
    "encoding": {"x": {"datum": 3, "type": "quantitative", "title": "qIR, z0"}, "y": {"datum": 0.76, "type": "quantitative", "title": "Counts"}, "text": {"field": "val"}}},
   {"data": {"name": "ann3"}, "mark": {"type": "text", "fontSize": 18, "align": "left", "baseline": "alphabetic", "dx": 96, "dy": -13},
    "encoding": {"x": {"datum": 3, "type": "quantitative", "title": "qIR, z0"}, "y": {"datum": 0.76, "type": "quantitative", "title": "Counts"}, "text": {"field": "up"}}},
   {"data": {"name": "ann3"}, "mark": {"type": "text", "fontSize": 18, "align": "left", "baseline": "alphabetic", "dx": 96, "dy": 5},
    "encoding": {"x": {"datum": 3, "type": "quantitative", "title": "qIR, z0"}, "y": {"datum": 0.76, "type": "quantitative", "title": "Counts"}, "text": {"field": "dn"}}}
  ]}
],
"config": {
 "font": "Liberation Serif",
 "view": {"stroke": "black", "strokeWidth": 2.5},
 "axis": {"zindex": 1, "domain": true, "domainColor": "black", "domainWidth": 2.5, "grid": false, "tickColor": "black", "tickSize": -6, "tickWidth": 1.5, "labelColor": "black", "labelFont": "Liberation Serif", "labelFontSize": 21, "labelPadding": 15, "titleColor": "black", "titleFont": "Liberation Serif", "titleFontWeight": "normal"},
 "axisY": {"titleFontSize": 26, "titlePadding": 18},
 "axisX": {"labelFontSize": 24, "titleFontSize": 32, "titleFontStyle": "italic", "titlePadding": 8},
 "legend": {"labelFont": "Liberation Serif", "labelFontSize": 20, "labelColor": "black", "labelLimit": 400, "padding": 0}
}
}
